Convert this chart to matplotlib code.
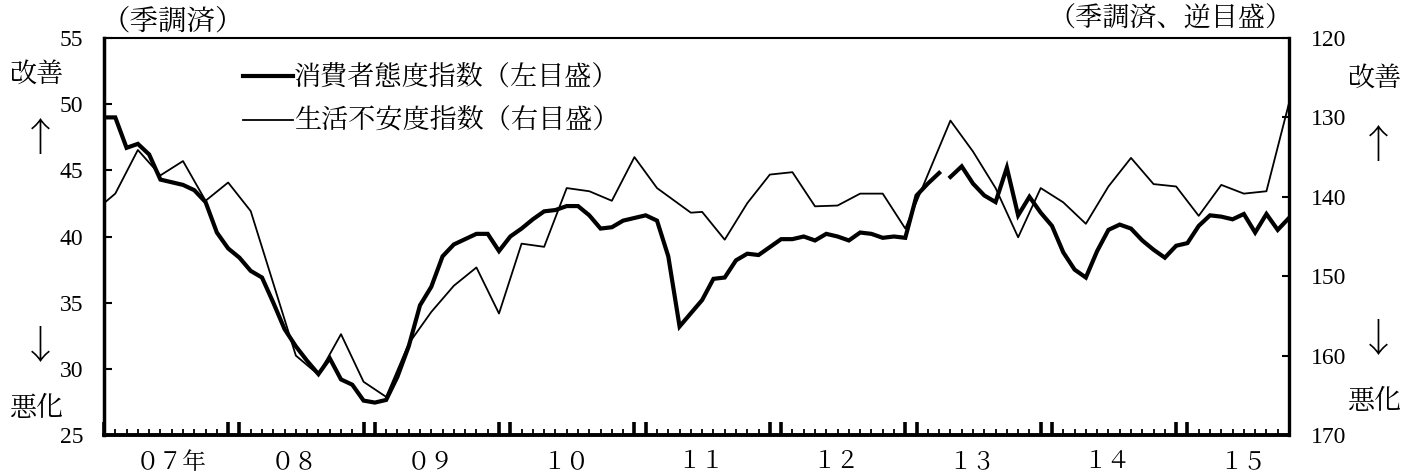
import numpy as np
import pandas as pd
import matplotlib
matplotlib.use("Agg")
import matplotlib.pyplot as plt
from matplotlib.ticker import FixedLocator

FONTS = ["Liberation Serif", "Noto Serif CJK JP"]
plt.rcParams["font.family"] = FONTS

# 消費者態度指数 (monthly, seasonally adjusted), Jan 2007 - Mar 2013 (訪問留置)
CCI_OLD_START = "2007-01"
cci_old = [
    49.0, 49.0, 46.7, 47.0, 46.2, 44.3, 44.1, 43.9, 43.5, 42.6, 40.3, 39.1,
    38.4, 37.4, 36.9, 35.0, 33.0, 31.7, 30.6, 29.6, 30.8, 29.2, 28.8, 27.6,
    27.45, 27.65, 29.4, 31.7, 34.8, 36.2, 38.5, 39.4, 39.8, 40.2, 40.2, 38.9,
    40.0, 40.6, 41.3, 41.9, 42.0, 42.3, 42.3, 41.6, 40.6, 40.7, 41.2, 41.4,
    41.6, 41.2, 38.5, 33.2, 34.2, 35.2, 36.8, 36.9, 38.2, 38.7, 38.6, 39.2,
    39.8, 39.8, 40.0, 39.7, 40.2, 40.0, 39.7, 40.3, 40.2, 39.9, 40.0, 39.9,
    43.1, 44.0, 44.8,
]
# Apr 2013 - Oct 2015 (郵送調査)
CCI_NEW_START = "2013-04"
cci_new = [
    44.5, 45.3, 44.0, 43.1, 42.6, 45.2, 41.6, 43.0, 41.8,
    40.8, 38.8, 37.5, 36.9, 38.9, 40.5, 40.9, 40.6, 39.7, 39.0, 38.4, 39.3,
    39.5, 40.8, 41.6, 41.5, 41.3, 41.7, 40.3, 41.7, 40.5, 41.4,
]

# 生活不安度指数 (bi-monthly survey; the Apr 2011 round was held in May)
anx_months = (
    [d.strftime("%Y-%m") for d in pd.date_range("2006-12-01", "2011-02-01", freq="2MS")]
    + ["2011-05"]
    + [d.strftime("%Y-%m") for d in pd.date_range("2011-06-01", "2015-10-01", freq="2MS")]
)
anx = [
    142.0, 139.6, 134.1, 137.3, 135.5, 140.5, 138.2, 141.8, 150.9, 160.0,
    162.4, 157.3, 163.3, 165.2, 158.5, 154.5, 151.2, 148.9, 154.7, 145.9,
    146.3, 138.9, 139.3, 140.5, 135.0, 138.9,
    142.0,
    141.9, 145.4, 140.8, 137.2, 136.9, 141.2, 141.1, 139.6, 139.6, 144.0,
    137.2, 130.4, 134.3, 138.9, 145.1, 138.9, 140.7, 143.4, 138.7, 135.1,
    138.4, 138.7, 142.4, 138.5, 139.6, 139.3, 128.2,
]

YEAR_LABELS = ["０７年", "０８", "０９", "１０", "１１", "１２", "１３", "１４", "１５"]
FIRST_YEAR = 2007
LABEL_CCI = "消費者態度指数（左目盛）"
LABEL_ANX = "生活不安度指数（右目盛）"


def month_index(ym):
    y, m = ym.split("-")
    return (int(y) - FIRST_YEAR) * 12 + int(m) - 1


x_old = np.arange(len(cci_old)) + month_index(CCI_OLD_START)
x_new = np.arange(len(cci_new)) + month_index(CCI_NEW_START)
x_anx = np.array([month_index(m) for m in anx_months])
last_month = x_new[-1]

W, H = 1403, 475
fig = plt.figure(figsize=(W / 100, H / 100), dpi=100)
ax = fig.add_axes([104 / W, 1 - 435 / H, (1289 - 104) / W, (435 - 38) / H])
ax2 = ax.twinx()

h_cci, = ax.plot(x_old, cci_old, color="black", lw=3.0, solid_joinstyle="miter", zorder=3)
ax.plot(x_new, cci_new, color="black", lw=3.0, solid_joinstyle="miter", zorder=3)
h_anx, = ax2.plot(x_anx, anx, color="black", lw=1.3, zorder=2)

ax.set_xlim(0, last_month)
ax.set_ylim(25, 55)
ax.set_yticks(np.arange(25, 56, 5))
ax2.set_ylim(170, 120)
ax2.set_yticks(np.arange(120, 171, 10))

months = np.arange(0, last_month + 1)
year_edge = months[(months % 12 == 0) | (months % 12 == 11)]
other = months[~np.isin(months, year_edge)]
ax.xaxis.set_major_locator(FixedLocator(year_edge))
ax.xaxis.set_minor_locator(FixedLocator(other))
ax.tick_params(axis="x", which="major", direction="in", length=9.5, width=2.6,
               labelbottom=False, top=False)
ax.tick_params(axis="x", which="minor", direction="in", length=4, width=1.3, top=False)
ax.tick_params(axis="y", direction="in", length=6, width=1.5, labelsize=17, pad=15)
ax2.tick_params(axis="y", direction="in", length=5, width=1.5, labelsize=17, pad=16)

for side, lw in [("left", 2.5), ("bottom", 2.8), ("top", 1.5)]:
    ax.spines[side].set_linewidth(lw)
ax.spines["right"].set_visible(False)
for side in ["left", "bottom", "top"]:
    ax2.spines[side].set_visible(False)
ax2.spines["right"].set_linewidth(2.4)

# year labels under the axis
for k, lab in enumerate(YEAR_LABELS):
    ax.annotate(lab, xy=(k * 12 + 5.5, 0), xycoords=("data", "axes fraction"),
                xytext=(-22, -20), textcoords="offset points",
                ha="left", va="center", fontsize=17)

ax2.legend([h_cci, h_anx], [LABEL_CCI, LABEL_ANX], loc="upper left",
           bbox_to_anchor=(0.117, 0.93), frameon=False, fontsize=19.5,
           handlelength=1.85, handletextpad=0.05, labelspacing=0.63,
           borderpad=0, borderaxespad=0)

jp = 19.5
fig.text(102 / W, 1 - 22 / H, "（季調済）", ha="left", va="center", fontsize=20.5)
fig.text(1293 / W, 1 - 20 / H, "（季調済、逆目盛）", ha="right", va="center", fontsize=19.5)

for x_px, y_px, s, fs in [
    (37, 75, "改善", jp), (40, 140, "↑", 28), (40, 348, "↓", 28), (37, 409, "悪化", jp),
    (1375, 79, "改善", jp), (1378, 147, "↑", 28), (1378, 341, "↓", 28), (1375, 402, "悪化", jp),
]:
    fam = ["Noto Serif CJK JP"] if s in "↑↓" else FONTS
    fig.text(x_px / W, 1 - y_px / H, s, ha="center", va="center", fontsize=fs, family=fam)

fig.savefig("out.png", dpi=100)
